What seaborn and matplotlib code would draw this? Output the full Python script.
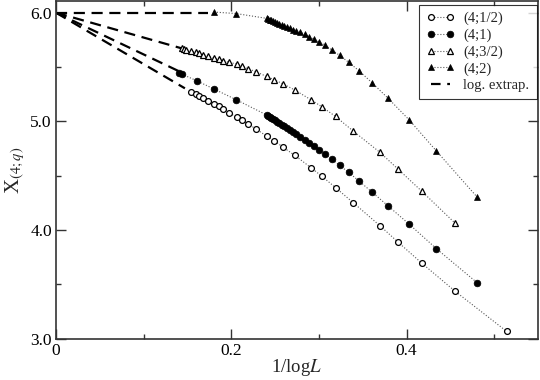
import matplotlib
matplotlib.use("Agg")
import matplotlib.pyplot as plt
from matplotlib.lines import Line2D
import seaborn as sns

# x = 1/logL, shared by the (4;1/2) and (4;3/2) runs
half_x = [0.1540, 0.1593, 0.1631, 0.1673, 0.1730, 0.1802, 0.1856, 0.1905, 0.1970,
          0.2068, 0.2125, 0.2193, 0.2281, 0.2403, 0.2490, 0.2593, 0.2723, 0.2909,
          0.3034, 0.3190, 0.3391, 0.3696, 0.3901, 0.4171, 0.4555, 0.5141]
half_y = [5.270, 5.249, 5.233, 5.218, 5.190, 5.163, 5.139, 5.114, 5.080,
          5.037, 5.010, 4.976, 4.930, 4.865, 4.822, 4.761, 4.688, 4.574,
          4.495, 4.390, 4.252, 4.040, 3.890, 3.697, 3.436, 3.068]

three_half_x = [0.1434, 0.1460, 0.1489, 0.1540, 0.1593, 0.1631, 0.1673, 0.1730,
                0.1802, 0.1856, 0.1905, 0.1970, 0.2068, 0.2125, 0.2193, 0.2281,
                0.2403, 0.2490, 0.2593, 0.2723, 0.2909, 0.3034, 0.3190, 0.3391,
                0.3696, 0.3901, 0.4171, 0.4555]
three_half_y = [5.672, 5.666, 5.659, 5.647, 5.634, 5.625, 5.615, 5.601,
                5.584, 5.571, 5.559, 5.543, 5.528, 5.510, 5.484, 5.457,
                5.413, 5.383, 5.344, 5.289, 5.199, 5.134, 5.045, 4.911,
                4.715, 4.562, 4.359, 4.062]

# x grid of the (4;1) and (4;2) runs
one_x = [0.1406, 0.1441, 0.1605, 0.1802, 0.2057,
         0.2403, 0.2420, 0.2439, 0.2458, 0.2479, 0.2500, 0.2524, 0.2549, 0.2576,
         0.2604, 0.2635, 0.2668, 0.2703, 0.2742, 0.2789, 0.2840, 0.2887, 0.2940,
         0.3003, 0.3070, 0.3148, 0.3235, 0.3339, 0.3460, 0.3605, 0.3790, 0.4027,
         0.4341, 0.4808]
one_y = [5.448, 5.433, 5.374, 5.298, 5.199,
         5.059, 5.050, 5.040, 5.030, 5.019, 5.008, 4.995, 4.982, 4.968,
         4.953, 4.937, 4.919, 4.901, 4.880, 4.855, 4.829, 4.804, 4.773,
         4.737, 4.700, 4.651, 4.596, 4.531, 4.449, 4.350, 4.221, 4.056,
         3.828, 3.513]

two_x = [0.1802, 0.2057,
         0.2403, 0.2420, 0.2439, 0.2458, 0.2479, 0.2500, 0.2524, 0.2549, 0.2576,
         0.2604, 0.2635, 0.2668, 0.2703, 0.2742, 0.2789, 0.2840, 0.2887, 0.2940,
         0.3003, 0.3070, 0.3148, 0.3235, 0.3339, 0.3460, 0.3605, 0.3790, 0.4027,
         0.4341, 0.4808]
two_y = [6.006, 5.992,
         5.948, 5.942, 5.936, 5.930, 5.923, 5.916, 5.907, 5.899, 5.889,
         5.880, 5.869, 5.857, 5.845, 5.832, 5.818, 5.801, 5.779, 5.758,
         5.730, 5.700, 5.657, 5.608, 5.544, 5.464, 5.356, 5.212, 5.016,
         4.727, 4.301]

# log. extrapolation segments (start at 1/logL = 0)
extrap_x = [[0.0, 0.1471], [0.0, 0.1414], [0.0, 0.1434], [0.0, 0.1734]]
extrap_y = [[6.0, 5.304], [6.0, 5.457], [6.0, 5.672], [6.0, 6.0]]

labels = ["(4;1/2)", "(4;1)", "(4;3/2)", "(4;2)"]

sns.set_theme(style="ticks")
plt.rcParams["font.family"] = ["Liberation Serif", "DejaVu Serif"]
plt.rcParams["mathtext.fontset"] = "stix"

fig = plt.figure(figsize=(5.4, 3.8), dpi=100)
ax = fig.add_axes([0.1037, 0.1087, 0.8926, 0.8879])

for xs, ys in zip(extrap_x, extrap_y):
    ax.plot(xs, ys, color="black", lw=1.6, dashes=(5, 3))

dot = dict(color="0.35", lw=0.8, linestyle=":")
styles = [
    dict(marker="o", markersize=4.2, markerfacecolor="white", markeredgecolor="black", markeredgewidth=0.9),
    dict(marker="o", markersize=4.8, markerfacecolor="black", markeredgecolor="black", markeredgewidth=0.5),
    dict(marker="^", markersize=4.6, markerfacecolor="white", markeredgecolor="black", markeredgewidth=0.9),
    dict(marker="^", markersize=5.0, markerfacecolor="black", markeredgecolor="black", markeredgewidth=0.5),
]
series = [(half_x, half_y), (one_x, one_y), (three_half_x, three_half_y), (two_x, two_y)]

handles = []
for (xs, ys), st, lab in zip(series, styles, labels):
    sns.lineplot(x=xs, y=ys, ax=ax, errorbar=None, sort=False, **dot, **st)
    handles.append(Line2D([0], [0], **dot, **st, label=lab))
handles.append(Line2D([0], [0], color="black", lw=1.6, dashes=(4.3, 3), label="log. extrap."))

ax.set_xlim(0, 0.55)
ax.set_ylim(3.0, 6.105)
ax.set_xticks([0, 0.2, 0.4], ["0", "0.2", "0.4"])
ax.set_xticks([0.1, 0.3, 0.5], minor=True)
ax.set_yticks([3.0, 4.0, 5.0, 6.0], ["3.0", "4.0", "5.0", "6.0"])
ax.set_yticks([3.5, 4.5, 5.5], minor=True)
ax.tick_params(which="both", direction="in", top=True, right=True,
               colors="0.2", labelcolor="black", labelsize=12.5, width=1.0)
ax.tick_params(which="major", length=7, pad=3)
ax.tick_params(which="minor", length=3.5)
for sp in ax.spines.values():
    sp.set_color("0.2")
    sp.set_linewidth(1.2)

ax.set_xlabel("1/log$L$", fontsize=13.5, labelpad=-1)
ax.set_ylabel("X$_{(4;q)}$", fontsize=15, labelpad=2)

leg = ax.legend(handles=handles, loc="upper right", bbox_to_anchor=(0.997, 0.99),
                borderaxespad=0, numpoints=2, handlelength=1.9, fontsize=10.5,
                frameon=True, fancybox=False, edgecolor="black",
                handletextpad=0.6, labelspacing=0.22, borderpad=0.5)
leg.get_frame().set_linewidth(0.8)

fig.savefig("out.png", dpi=100)
